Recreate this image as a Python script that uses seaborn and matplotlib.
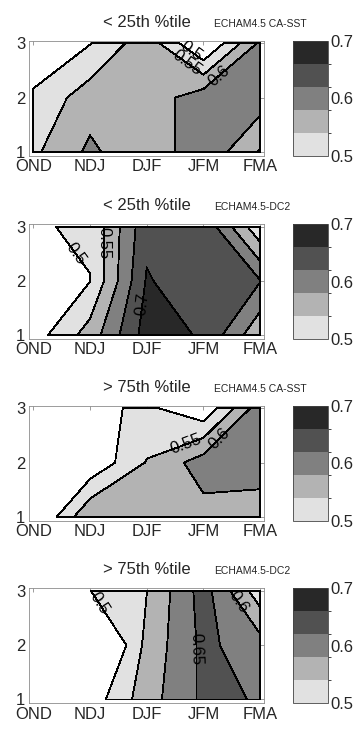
import numpy as np
import pandas as pd
import matplotlib
matplotlib.use("Agg")
import matplotlib.pyplot as plt
import seaborn as sns
from matplotlib.colors import ListedColormap, BoundaryNorm
from matplotlib.cm import ScalarMappable

# ---------------- data ----------------
seasons = ["OND", "NDJ", "DJF", "JFM", "FMA"]
leads = [1, 2, 3]
titles = ["< 25th %tile", "< 25th %tile", "> 75th %tile", "> 75th %tile"]
models = ["ECHAM4.5 CA-SST", "ECHAM4.5-DC2", "ECHAM4.5 CA-SST", "ECHAM4.5-DC2"]

# rows: lead 1, 2, 3 ; columns: OND .. FMA
low_ca_sst = [
    [0.540, 0.610, 0.560, 0.640, 0.545],
    [0.510, 0.577, 0.570, 0.630, 0.627],
    [0.450, 0.498, 0.582, 0.440, 0.610],
]
low_dc2 = [
    [0.475, 0.572, 0.722, 0.695, 0.560],
    [0.420, 0.499, 0.705, 0.663, 0.652],
    [0.496, 0.506, 0.685, 0.690, 0.510],
]
high_ca_sst = [
    [0.432, 0.596, 0.575, 0.581, 0.569],
    [0.400, 0.458, 0.553, 0.625, 0.630],
    [0.380, 0.485, 0.511, 0.460, 0.630],
]
high_dc2 = [
    [0.400, 0.470, 0.578, 0.660, 0.647],
    [0.350, 0.384, 0.565, 0.662, 0.621],
    [0.420, 0.499, 0.549, 0.672, 0.520],
]
panels = [low_ca_sst, low_dc2, high_ca_sst, high_dc2]

line_levels = [0.5, 0.55, 0.6, 0.65, 0.7]
fill_levels = [0.5, 0.55, 0.6, 0.65, 0.7, 1.0]
grays = ["#e1e1e1", "#b3b3b3", "#808080", "#515151", "#282828"]
cbar_ticks = [0.5, 0.6, 0.7]

# contour label (level, approx position)
label_spots = [
    [(0.5, (3.77, 2.84)), (0.55, (3.70, 2.62)), (0.6, (4.28, 2.40))],
    [(0.5, (1.68, 2.45)), (0.55, (2.05, 2.70)), (0.7, (2.93, 1.57))],
    [(0.55, (3.71, 2.30)), (0.6, (4.26, 2.45))],
    [(0.5, (2.09, 2.72)), (0.65, (3.88, 1.93)), (0.6, (4.55, 2.75))],
]

# ---------------- style ----------------
sns.set_style("white")
plt.rcParams["font.family"] = ["Liberation Sans", "DejaVu Sans"]
palette = sns.color_palette(grays)
frame_col = "#8c8c8c"

fig = plt.figure(figsize=(3.63, 7.29), dpi=100)
ax_left, ax_w, ax_h = 0.0807, 0.647, 0.1577
cb_left, cb_w = 0.807, 0.0964
bottoms = [0.7866, 0.535, 0.2859, 0.0353]

X, Y = np.meshgrid(np.arange(1, len(seasons) + 1), leads)

for i, grid in enumerate(panels):
    Z = np.array(grid)
    ax = fig.add_axes([ax_left, bottoms[i], ax_w, ax_h])
    cf = ax.contourf(X, Y, Z, levels=fill_levels, colors=palette)
    cf.set_edgecolor("k")
    cf.set_linewidth(0.6)
    for lev, pos in label_spots[i]:
        cl = ax.contour(X, Y, Z, levels=[lev], colors="none")
        ax.clabel(cl, manual=[pos], inline=False,
                  fmt="%g", fontsize=12, colors="k")

    ax.set_xlim(0.93, 5.07)
    ax.set_ylim(0.93, 3.05)
    ax.set_xticks(range(1, 6), seasons)
    ax.set_yticks(leads, [str(l) for l in leads])
    ax.tick_params(direction="in", length=3, width=0.6, color=frame_col,
                   top=True, right=True, labelsize=12)
    ax.tick_params(axis="x", pad=2.5)
    ax.tick_params(axis="y", pad=3)
    for sp in ax.spines.values():
        sp.set_color(frame_col)
        sp.set_linewidth(0.6)
    ax.set_title(titles[i], fontsize=12, pad=10)
    ax.annotate(models[i], xy=(0.785, 1.0), xycoords="axes fraction",
                xytext=(0, 10), textcoords="offset points",
                fontsize=7.5, va="baseline", ha="left")

    cax = fig.add_axes([cb_left, bottoms[i], cb_w, ax_h])
    sm = ScalarMappable(norm=BoundaryNorm(np.linspace(0.5, 0.7, 6), 5),
                        cmap=ListedColormap(grays))
    cb = fig.colorbar(sm, cax=cax, ticks=cbar_ticks)
    cb.ax.set_yticklabels([f"{t:g}" for t in cbar_ticks])
    cb.ax.tick_params(length=0, pad=2, labelsize=12)
    cb.outline.set_linewidth(0.6)
    cb.outline.set_edgecolor("#444444")

fig.savefig("out.png", dpi=100)
